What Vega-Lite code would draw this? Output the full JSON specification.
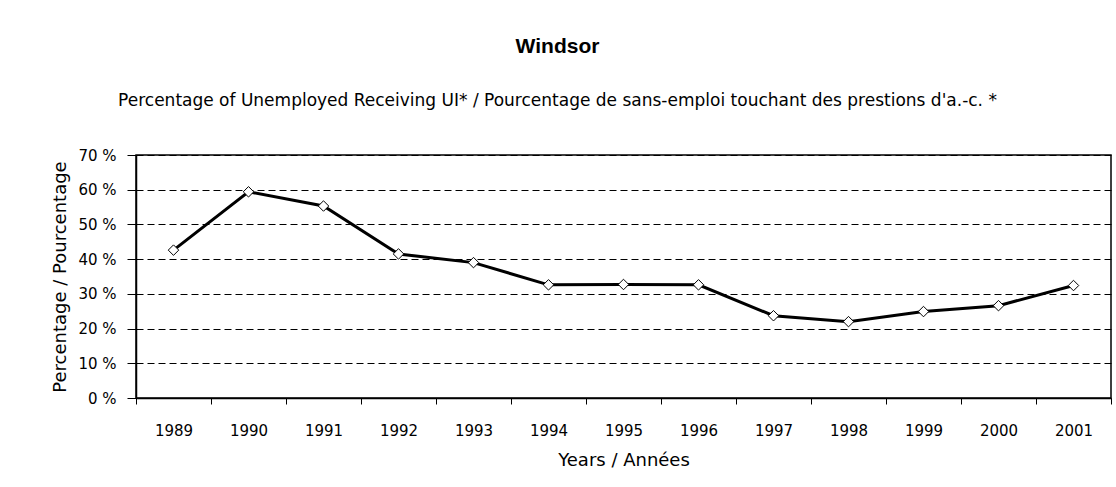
{
  "$schema": "https://vega.github.io/schema/vega-lite/v6.json",
  "width": 975,
  "height": 243,
  "autosize": {"type": "none"},
  "padding": {"left": 136, "top": 155, "right": 5, "bottom": 89},
  "background": "white",
  "title": {
    "text": "Windsor",
    "subtitle": "Percentage of Unemployed Receiving UI* / Pourcentage de sans-emploi touchant des prestions d'a.-c. *",
    "anchor": "middle",
    "frame": "group",
    "dx": -66,
    "offset": 39,
    "font": "Liberation Sans",
    "fontSize": 21,
    "fontWeight": "bold",
    "color": "black",
    "subtitleFont": "DejaVu Sans",
    "subtitleFontSize": 17,
    "subtitleColor": "black",
    "subtitlePadding": 36
  },
  "data": {
    "values": [
      {"year": "1989", "pct": 42.6},
      {"year": "1990", "pct": 59.4},
      {"year": "1991", "pct": 55.3},
      {"year": "1992", "pct": 41.5},
      {"year": "1993", "pct": 39.0},
      {"year": "1994", "pct": 32.6},
      {"year": "1995", "pct": 32.7},
      {"year": "1996", "pct": 32.6},
      {"year": "1997", "pct": 23.7},
      {"year": "1998", "pct": 22.0},
      {"year": "1999", "pct": 24.9},
      {"year": "2000", "pct": 26.6},
      {"year": "2001", "pct": 32.4}
    ]
  },
  "encoding": {
    "x": {
      "field": "year",
      "type": "ordinal",
      "scale": {"type": "band", "paddingInner": 0, "paddingOuter": 0},
      "axis": {
        "title": "Years / Années",
        "labelAngle": 0,
        "tickBand": "extent",
        "tickSize": 6,
        "tickColor": "black",
        "domainColor": "black",
        "domainWidth": 1.5,
        "labelPadding": 19,
        "labelFont": "DejaVu Sans",
        "labelFontSize": 15,
        "labelColor": "black",
        "titleFont": "DejaVu Sans",
        "titleFontSize": 18,
        "titleFontWeight": "normal",
        "titleColor": "black",
        "titlePadding": 13,
        "grid": false
      }
    },
    "y": {
      "field": "pct",
      "type": "quantitative",
      "scale": {"domain": [0, 70], "nice": false},
      "axis": {
        "title": "Percentage / Pourcentage",
        "values": [0, 10, 20, 30, 40, 50, 60, 70],
        "labelExpr": "datum.value + ' %'",
        "tickSize": 9,
        "tickColor": "black",
        "domainColor": "black",
        "domainWidth": 1.5,
        "labelPadding": 11,
        "labelFont": "DejaVu Sans",
        "labelFontSize": 15,
        "labelColor": "black",
        "titleFont": "DejaVu Sans",
        "titleFontSize": 18,
        "titleFontWeight": "normal",
        "titleColor": "black",
        "titlePadding": 8,
        "grid": true,
        "gridColor": "black",
        "gridDash": [7, 4],
        "gridWidth": 1,
        "gridOpacity": 1
      }
    }
  },
  "layer": [
    {"mark": {"type": "line", "color": "black", "strokeWidth": 3}},
    {"mark": {"type": "point", "shape": "diamond", "filled": true, "fill": "white", "stroke": "black", "strokeWidth": 1, "size": 110, "opacity": 1}}
  ],
  "config": {
    "view": {"stroke": "black", "strokeWidth": 1.5}
  }
}
